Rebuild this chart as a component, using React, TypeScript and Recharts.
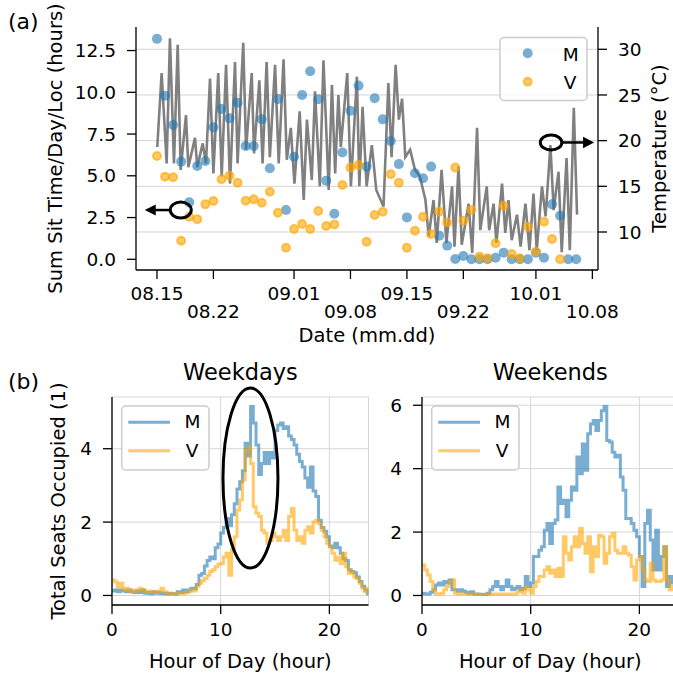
import React from 'react';
import {
  ComposedChart,
  LineChart,
  Line,
  Scatter,
  XAxis,
  YAxis,
  CartesianGrid,
  ReferenceLine,
  ReferenceDot,
  Label,
} from 'recharts';

// ---- panel (a) ----
const dateTicks = [0, 7, 17, 24, 31, 38, 47, 54];
const dateLabels = ['08.15', '08.22', '09.01', '09.08', '09.15', '09.22', '10.01', '10.08'];
const sitTicks = [0, 2.5, 5, 7.5, 10, 12.5];
const tempTicks = [10, 15, 20, 25, 30];

// daily sum of sit time, one value per day from 08.15
const sitM = [
  13.2, 9.8, 8.04, 5.85, 3.41, 5.59, 5.89, 7.9, 9.0, 8.44, 9.38, 6.78, 6.78, 8.38, 5.45, 9.6, 2.95,
  6.14, 9.84, 11.26, 9.58, 4.71, 2.73, 6.4, 8.9, 10.4, 5.55, 9.64, 8.38, 7.08, 5.7, 2.51, 5.15, 4.85,
  5.55, 1.41, 0.82, 0.02, 0.2, 0, 0, 0, 0.1, 0.4, 0, 0, 0, 0.4, 0.1, 3.29, 2.61, 0, 0,
];
const sitV = [
  6.19, 4.95, 4.91, 1.11, 2.55, 2.4, 3.29, 3.49, 4.79, 5.0, 4.59, 3.51, 3.59, 3.39, 4.05, 2.79, 0.69,
  1.81, 2.11, 1.81, 2.89, 1.99, 2.09, 4.45, 5.49, 5.65, 1.05, 2.65, 2.85, 5.1, 4.59, 0.69, 1.71, 2.55,
  1.51, 2.85, 2.21, 5.49, 2.31, 2.95, 0.16, 0.06, 0.96, 3.21, 0.32, 0.06, 1.95, 0.46, 2.25, 1.22, 0,
];

// outdoor temperature, days since 08.15
const tempDay = [
  0.04, 0.58, 1.2, 1.61, 2.11, 2.57, 2.94, 3.6, 3.89, 4.72, 5.0, 5.67, 6.08, 6.58, 7.0, 7.6, 8.03,
  8.57, 9.06, 9.68, 10.0, 10.7, 11.05, 11.75, 12.04, 12.7, 13.1, 13.6, 14.0, 14.65, 15.1, 15.7, 16.1,
  16.6, 17.05, 17.7, 18.2, 18.6, 19.2, 19.6, 20.2, 20.65, 21.3, 21.7, 22.1, 22.5, 22.8, 23.6, 24.05,
  24.8, 25.1, 25.5, 26.0, 26.65, 27.2, 28.1, 28.7, 29.1, 29.6, 30.0, 30.4, 30.8, 31.4, 32.0, 32.6,
  33.3, 33.7, 34.3, 34.7, 35.3, 35.9, 36.6, 36.9, 37.4, 37.8, 38.65, 39.1, 39.7, 40.1, 40.9, 41.2,
  41.75, 42.1, 42.8, 43.2, 43.6, 44.0, 44.65, 45.1, 45.7, 46.2, 46.7, 47.1, 47.75, 48.2, 48.8, 49.2,
  49.8, 50.2, 50.8, 51.2, 51.7, 52.1,
];
const tempC = [
  19.3, 27.4, 17.5, 31.2, 17.5, 30.5, 16.8, 22.8, 17.1, 20.3, 17.1, 19.7, 17.5, 26.8, 16.4, 27.4, 16.1,
  28.3, 15.3, 28.6, 17.5, 30.7, 19.0, 27.4, 18.6, 26.6, 17.5, 28.6, 18.2, 28.3, 17.5, 28.9, 17.9, 21.4,
  15.3, 23.2, 13.5, 22.3, 15.7, 25.4, 15.0, 28.8, 14.6, 26.1, 16.4, 25.0, 19.3, 27.4, 15.0, 27.0, 15.0,
  23.7, 15.0, 19.5, 14.6, 12.8, 26.3, 18.2, 28.3, 22.3, 24.6, 18.2, 19.0, 16.8, 16.1, 13.5, 9.5, 13.5,
  8.8, 16.8, 8.8, 15.0, 8.4, 17.2, 8.6, 13.1, 7.7, 21.4, 10.2, 15.0, 10.2, 13.1, 8.8, 15.3, 9.9, 13.5,
  9.1, 11.9, 8.4, 13.1, 8.0, 14.2, 8.0, 15.0, 11.7, 19.5, 12.4, 16.6, 7.8, 18.1, 8.0, 23.6, 11.9,
];

// ---- panel (b) ----  quarter-hour bins
const hourTicks = [0, 10, 20];
const weekdayM = [
  0.12, 0.15, 0.1, 0.15, 0.12, 0.1, 0.15, 0.1, 0.08, 0.12, 0.08, 0.15, 0.06, 0.08, 0.05, 0.1,
  0.06, 0.08, 0.05, 0.06, 0.04, 0.06, 0.05, 0.04, 0.1, 0.08, 0.15, 0.1, 0.15, 0.2, 0.18, 0.3,
  0.55, 0.6, 0.8, 0.95, 1.05, 1.0, 1.3, 1.4, 1.7, 1.85, 2.1, 1.9, 2.2, 2.5, 2.9, 3.1,
  3.4, 4.15, 3.8, 5.15, 4.7, 4.1, 3.3, 3.6, 3.9, 3.6, 3.9, 3.75, 4.5, 4.65, 4.7, 4.55,
  4.6, 4.35, 4.25, 4.1, 3.85, 3.65, 3.5, 3.2, 2.95, 3.5, 2.85, 2.7, 2.05, 1.85, 1.75, 1.6,
  1.35, 1.3, 1.42, 1.3, 1.15, 1.0, 0.95, 0.7, 0.65, 0.62, 0.5, 0.38, 0.25, 0.15, 0.05, 0.05,
];
const weekdayV = [
  0.42, 0.37, 0.24, 0.33, 0.15, 0.2, 0.15, 0.1, 0.15, 0.12, 0.2, 0.15, 0.1, 0.12, 0.08, 0.1,
  0.08, 0.12, 0.2, 0.1, 0.06, 0.05, 0.04, 0.05, 0.05, 0.06, 0.05, 0.08, 0.1, 0.15, 0.12, 0.25,
  0.33, 0.4, 0.46, 0.55, 0.65, 0.7, 0.78, 0.85, 0.87, 1.05, 1.15, 0.55, 1.24, 1.6, 2.33, 2.6,
  3.15, 3.96, 4.05, 3.6, 2.42, 2.24, 2.15, 1.78, 1.7, 1.42, 1.5, 1.7, 1.6, 1.5, 1.6, 1.78,
  1.5, 2.15, 2.37, 1.78, 1.5, 1.6, 1.42, 1.78, 1.87, 1.7, 2.0, 2.05, 1.96, 1.78, 1.6, 1.42,
  1.33, 1.15, 0.96, 1.05, 0.87, 1.15, 0.78, 0.6, 0.65, 0.5, 0.46, 0.33, 0.2, 0.1, 0.2, 0.15,
];
const weekendM = [
  0.07, 0.05, 0.05, 0.1, 0.18, 0.33, 0.39, 0.33, 0.44, 0.39, 0.49, 0.18, 0.18, 0.13, 0.18, 0.13,
  0.1, 0.07, 0.12, 0.05, 0.05, 0.04, 0.03, 0.03, 0.07, 0.18, 0.28, 0.44, 0.28, 0.18, 0.28, 0.49,
  0.28, 0.18, 0.23, 0.28, 0.18, 0.23, 0.6, 0.28, 0.39, 1.23, 1.23, 1.43, 1.54, 2.06, 2.27, 1.64,
  2.27, 2.38, 3.42, 2.9, 3.0, 2.48, 3.0, 3.42, 3.32, 4.37, 3.84, 4.78, 3.95, 5.1, 5.41, 5.52,
  5.2, 5.52, 5.83, 5.96, 4.89, 4.84, 4.52, 4.37, 4.42, 3.74, 3.32, 2.43, 2.43, 2.27, 2.06, 1.85,
  1.23, 0.28, 2.27, 2.69, 1.75, 0.8, 2.06, 0.8, 1.23, 1.54, 0.28, 0.6, 0.39, 0.4, 0.3, 0.2,
];
const weekendV = [
  0.96, 0.8, 0.65, 0.44, 0.18, 0.05, 0.05, 0.07, 0.18, 0.28, 0.44, 0.49, 0.07, 0.05, 0.05, 0.05,
  0.05, 0.04, 0.05, 0.04, 0.03, 0.03, 0.03, 0.04, 0.05, 0.03, 0.05, 0.04, 0.05, 0.04, 0.05, 0.05,
  0.04, 0.05, 0.05, 0.12, 0.18, 0.07, 0.28, 0.18, 0.07, 0.28, 0.44, 0.6, 0.6, 0.8, 0.91, 0.7,
  0.8, 0.6, 0.86, 0.6, 1.85, 1.33, 1.12, 1.54, 1.85, 1.54, 2.11, 1.64, 1.33, 1.85, 0.75, 1.54,
  1.23, 1.9, 1.85, 1.02, 1.33, 1.85, 1.96, 1.43, 1.33, 1.33, 1.54, 1.33, 1.28, 0.91, 0.49, 1.12,
  1.23, 0.8, 0.49, 0.44, 1.02, 0.49, 0.44, 0.44, 0.49, 1.54, 0.49, 0.18, 0.28, 0.3, 0.2, 0.2,
];

const BLUE = '#1f77b4';
const ORANGE = '#ffa500';
const spine = { stroke: '#000', strokeWidth: 1.3 };
const tickFont = { fontSize: 18.5, fill: '#000' };

const toRows = (vals: number[]) => vals.map((y, i) => ({ h: i / 4, y }));

const DateTick = (props: any) => {
  const { x, y, payload } = props;
  const idx = dateTicks.indexOf(payload.value);
  return (
    <text x={x} y={y + (idx % 2 ? 39 : 21)} textAnchor="middle" fontSize={18.5} fill="#000">
      {dateLabels[idx]}
    </text>
  );
};

const LeftArrowMark = (p: any) => (
  <g>
    <ellipse cx={p.cx} cy={p.cy} rx={10.5} ry={8} fill="none" stroke="#000" strokeWidth={3} />
    <line x1={p.cx - 10.5} y1={p.cy} x2={p.cx - 26} y2={p.cy} stroke="#000" strokeWidth={2.5} />
    <polygon points={`${p.cx - 36},${p.cy} ${p.cx - 25},${p.cy - 5.5} ${p.cx - 25},${p.cy + 5.5}`} fill="#000" />
  </g>
);

const RightArrowMark = (p: any) => (
  <g>
    <ellipse cx={p.cx} cy={p.cy} rx={10.8} ry={7.5} fill="none" stroke="#000" strokeWidth={3} />
    <line x1={p.cx + 10.8} y1={p.cy} x2={p.cx + 33} y2={p.cy} stroke="#000" strokeWidth={2.5} />
    <polygon points={`${p.cx + 43},${p.cy} ${p.cx + 32},${p.cy - 5.7} ${p.cx + 32},${p.cy + 5.7}`} fill="#000" />
  </g>
);

const BigEllipse = (p: any) => (
  <ellipse cx={p.cx} cy={p.cy} rx={27.5} ry={90} fill="none" stroke="#000" strokeWidth={3} />
);

function HourPanel({
  mVals,
  vVals,
  domainY,
  ticksY,
  showLabel,
  children,
}: {
  mVals: number[];
  vVals: number[];
  domainY: [number, number];
  ticksY: number[];
  showLabel: boolean;
  children?: React.ReactNode;
}) {
  return (
    <LineChart width={380} height={299} margin={{ top: 17, right: 11.5, bottom: 0, left: 0 }}>
      <CartesianGrid stroke="#d6d6d6" strokeWidth={1} />
      <XAxis xAxisId="top" orientation="top" type="number" domain={[0, 1]} height={0} tick={false} tickLine={false} axisLine={spine} />
      <XAxis
        dataKey="h"
        type="number"
        domain={[0, 23.6]}
        ticks={hourTicks}
        interval={0}
        allowDataOverflow
        height={74}
        tickSize={9}
        tickMargin={9}
        tick={tickFont}
        tickLine={spine}
        axisLine={spine}
      >
        <Label value="Hour of Day (hour)" position="insideBottom" offset={11} fontSize={19.5} fill="#000" />
      </XAxis>
      <YAxis
        type="number"
        domain={domainY}
        ticks={ticksY}
        interval={0}
        allowDataOverflow
        width={112}
        tickSize={9}
        tickMargin={11}
        tick={tickFont}
        tickLine={spine}
        axisLine={spine}
      >
        {showLabel && (
          <Label
            value="Total Seats Occupied (1)"
            angle={-90}
            position="insideLeft"
            offset={58}
            fontSize={19.5}
            fill="#000"
            style={{ textAnchor: 'middle' }}
          />
        )}
      </YAxis>
      <YAxis yAxisId="r" orientation="right" width={0} tick={false} tickLine={false} axisLine={spine} />
      <Line data={toRows(mVals)} dataKey="y" type="stepAfter" stroke={BLUE} strokeOpacity={0.6} strokeWidth={3} dot={false} isAnimationActive={false} />
      <Line data={toRows(vVals)} dataKey="y" type="stepAfter" stroke={ORANGE} strokeOpacity={0.6} strokeWidth={3} dot={false} isAnimationActive={false} />
      {children}
    </LineChart>
  );
}

function LineLegend({ x, y }: { x: number; y: number }) {
  return (
    <g>
      <rect x={x} y={y} width={87.3} height={64} rx={4} fill="#fff" fillOpacity={0.8} stroke="#cccccc" strokeWidth={1.5} />
      <line x1={x + 6.6} x2={x + 48.3} y1={y + 16.3} y2={y + 16.3} stroke={BLUE} strokeOpacity={0.6} strokeWidth={3} />
      <line x1={x + 6.6} x2={x + 48.3} y1={y + 44.7} y2={y + 44.7} stroke={ORANGE} strokeOpacity={0.6} strokeWidth={3} />
      <text x={x + 70.8} y={y + 22.3} textAnchor="middle" fontSize={18.5} fill="#000">M</text>
      <text x={x + 70.3} y={y + 50.7} textAnchor="middle" fontSize={18.5} fill="#000">V</text>
    </g>
  );
}

export default function App() {
  const mRows = sitM.map((v, i) => ({ d: i, v }));
  const vRows = sitV.map((v, i) => ({ d: i, v }));
  const tRows = tempDay.map((d, i) => ({ d, t: tempC[i] }));

  return (
    <div
      style={{
        position: 'fixed',
        left: 0,
        top: 0,
        width: 673,
        height: 679,
        overflow: 'hidden',
        background: '#fff',
        fontFamily: "'DejaVu Sans', sans-serif",
      }}
    >
      <div style={{ position: 'absolute', left: 0, top: 0 }}>
        <ComposedChart width={673} height={350} margin={{ top: 27, right: 0, bottom: 0, left: 0 }}>
          <XAxis xAxisId="top" orientation="top" type="number" domain={[0, 1]} height={0} tick={false} tickLine={false} axisLine={spine} />
          <XAxis
            dataKey="d"
            type="number"
            domain={[-2.6, 54.7]}
            ticks={dateTicks}
            interval={0}
            allowDataOverflow
            height={80}
            tickSize={9}
            tickMargin={0}
            tick={(p: any) => <DateTick {...p} />}
            tickLine={spine}
            axisLine={spine}
          >
            <Label value="Date (mm.dd)" position="insideBottom" offset={8} fontSize={19.5} fill="#000" />
          </XAxis>
          <YAxis
            yAxisId="left"
            dataKey="v"
            type="number"
            domain={[-0.64, 13.91]}
            ticks={sitTicks}
            interval={0}
            allowDataOverflow
            width={136}
            tickSize={9}
            tickMargin={11}
            tick={tickFont}
            tickFormatter={(v: number) => v.toFixed(1)}
            tickLine={spine}
            axisLine={spine}
          >
            <Label
              value="Sum Sit Time/Day/Loc (hours)"
              angle={-90}
              position="insideLeft"
              offset={55}
              fontSize={19.5}
              fill="#000"
              style={{ textAnchor: 'middle' }}
            />
          </YAxis>
          <YAxis
            yAxisId="right"
            orientation="right"
            type="number"
            domain={[5.84, 32.44]}
            ticks={tempTicks}
            interval={0}
            allowDataOverflow
            width={75}
            tickSize={9}
            tickMargin={11}
            tick={tickFont}
            tickLine={spine}
            axisLine={spine}
          >
            <Label
              value="Temperature (°C)"
              angle={-90}
              position="insideRight"
              offset={14}
              fontSize={19.5}
              fill="#000"
              style={{ textAnchor: 'middle' }}
            />
          </YAxis>
          {tempTicks.map((t) => (
            <ReferenceLine key={t} y={t} yAxisId="right" stroke="#d3d3d3" strokeWidth={1} />
          ))}
          <Line
            yAxisId="right"
            data={tRows}
            dataKey="t"
            type="linear"
            stroke="#808080"
            strokeWidth={2.6}
            dot={false}
            isAnimationActive={false}
          />
          <Scatter
            yAxisId="left"
            data={mRows}
            isAnimationActive={false}
            shape={(p: any) => <circle cx={p.cx} cy={p.cy} r={5} fill={BLUE} fillOpacity={0.6} />}
          />
          <Scatter
            yAxisId="left"
            data={vRows}
            isAnimationActive={false}
            shape={(p: any) => (
              <circle cx={p.cx} cy={p.cy} r={4} fill={ORANGE} fillOpacity={0.6} stroke={ORANGE} strokeOpacity={0.6} strokeWidth={2} />
            )}
          />
          <ReferenceDot x={2.95} y={2.95} yAxisId="left" r={10} ifOverflow="visible" shape={(p: any) => <LeftArrowMark {...p} />} />
          <ReferenceDot x={48.88} y={19.8} yAxisId="right" r={10} ifOverflow="visible" shape={(p: any) => <RightArrowMark {...p} />} />
        </ComposedChart>
      </div>

      <div style={{ position: 'absolute', left: 0, top: 380 }}>
        <HourPanel mVals={weekdayM} vVals={weekdayV} domainY={[-0.26, 5.41]} ticksY={[0, 2, 4]} showLabel>
          <ReferenceDot x={12.74} y={3.2} r={10} ifOverflow="visible" shape={(p: any) => <BigEllipse {...p} />} />
        </HourPanel>
      </div>

      <div style={{ position: 'absolute', left: 310, top: 380 }}>
        <HourPanel mVals={weekendM} vVals={weekendV} domainY={[-0.3, 6.26]} ticksY={[0, 2, 4, 6]} showLabel={false} />
      </div>

      <svg width={673} height={679} style={{ position: 'absolute', left: 0, top: 0, pointerEvents: 'none' }}>
        <text x={8} y={29} fontSize={22} fill="#000">(a)</text>
        <text x={8} y={389} fontSize={22} fill="#000">(b)</text>
        <text x={240.4} y={380} textAnchor="middle" fontSize={22.5} fill="#000">Weekdays</text>
        <text x={550.3} y={380} textAnchor="middle" fontSize={22.5} fill="#000">Weekends</text>

        <g>
          <rect x={500} y={37.5} width={87} height={63} rx={4} fill="#fff" fillOpacity={0.8} stroke="#cccccc" strokeWidth={1.5} />
          <circle cx={527.7} cy={53.3} r={5} fill={BLUE} fillOpacity={0.6} />
          <circle cx={527.7} cy={81.7} r={4} fill={ORANGE} fillOpacity={0.6} stroke={ORANGE} strokeOpacity={0.6} strokeWidth={2} />
          <text x={570.7} y={60.7} textAnchor="middle" fontSize={18.5} fill="#000">M</text>
          <text x={570} y={89} textAnchor="middle" fontSize={18.5} fill="#000">V</text>
        </g>
        <LineLegend x={121.7} y={406} />
        <LineLegend x={431.7} y={406} />
      </svg>
    </div>
  );
}
